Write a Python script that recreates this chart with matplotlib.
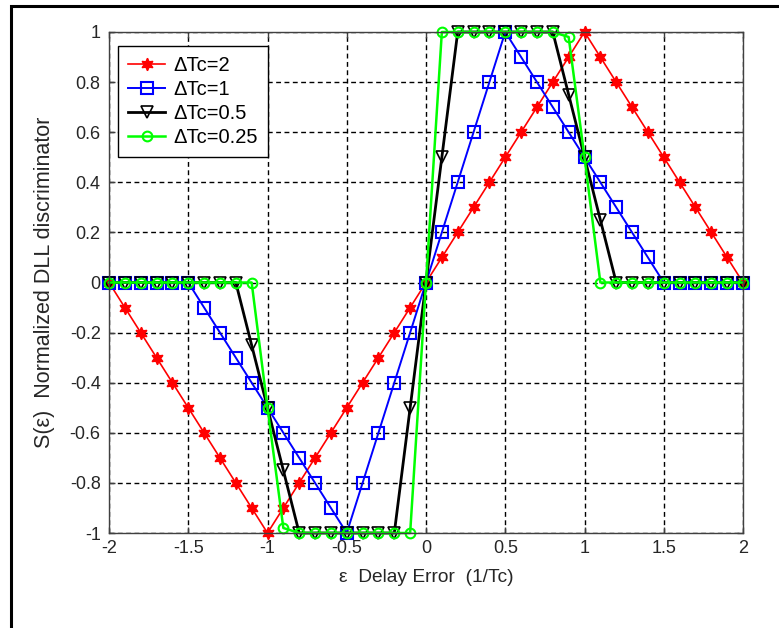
import matplotlib
matplotlib.use("Agg")
import matplotlib.pyplot as plt
from matplotlib.patches import Rectangle

# Delay error samples (chips)
delay_error = [-2.0, -1.9, -1.8, -1.7, -1.6, -1.5, -1.4, -1.3, -1.2, -1.1,
               -1.0, -0.9, -0.8, -0.7, -0.6, -0.5, -0.4, -0.3, -0.2, -0.1,
               0.0, 0.1, 0.2, 0.3, 0.4, 0.5, 0.6, 0.7, 0.8, 0.9,
               1.0, 1.1, 1.2, 1.3, 1.4, 1.5, 1.6, 1.7, 1.8, 1.9, 2.0]

# Normalized early-late discriminator output for each correlator spacing
s_dtc_2 = [0, -0.1, -0.2, -0.3, -0.4, -0.5, -0.6, -0.7, -0.8, -0.9,
           -1.0, -0.9, -0.8, -0.7, -0.6, -0.5, -0.4, -0.3, -0.2, -0.1,
           0, 0.1, 0.2, 0.3, 0.4, 0.5, 0.6, 0.7, 0.8, 0.9,
           1.0, 0.9, 0.8, 0.7, 0.6, 0.5, 0.4, 0.3, 0.2, 0.1, 0]
s_dtc_1 = [0, 0, 0, 0, 0, 0, -0.1, -0.2, -0.3, -0.4,
           -0.5, -0.6, -0.7, -0.8, -0.9, -1.0, -0.8, -0.6, -0.4, -0.2,
           0, 0.2, 0.4, 0.6, 0.8, 1.0, 0.9, 0.8, 0.7, 0.6,
           0.5, 0.4, 0.3, 0.2, 0.1, 0, 0, 0, 0, 0, 0]
s_dtc_05 = [0, 0, 0, 0, 0, 0, 0, 0, 0, -0.25,
            -0.5, -0.75, -1, -1, -1, -1, -1, -1, -1, -0.5,
            0, 0.5, 1, 1, 1, 1, 1, 1, 1, 0.75,
            0.5, 0.25, 0, 0, 0, 0, 0, 0, 0, 0, 0]
s_dtc_025 = [0, 0, 0, 0, 0, 0, 0, 0, 0, 0,
             -0.5, -0.98, -1, -1, -1, -1, -1, -1, -1, -1,
             0, 1, 1, 1, 1, 1, 1, 1, 1, 0.98,
             0.5, 0, 0, 0, 0, 0, 0, 0, 0, 0, 0]

labels = ["\u0394Tc=2", "\u0394Tc=1", "\u0394Tc=0.5", "\u0394Tc=0.25"]
x_ticks = [-2, -1.5, -1, -0.5, 0, 0.5, 1, 1.5, 2]
x_tick_labels = ["-2", "-1.5", "-1", "-0.5", "0", "0.5", "1", "1.5", "2"]
y_ticks = [-1, -0.8, -0.6, -0.4, -0.2, 0, 0.2, 0.4, 0.6, 0.8, 1]
y_tick_labels = ["-1", "-0.8", "-0.6", "-0.4", "-0.2", "0",
                 "0.2", "0.4", "0.6", "0.8", "1"]

plt.rcParams["font.family"] = ["Liberation Sans", "DejaVu Sans"]
FS = 13
TXT = "#262626"
AX = "#404040"

W, H = 779, 628
fig = plt.figure(figsize=(W / 100, H / 100), dpi=100)
fig.patch.set_facecolor("white")

# thick outer frame (top and left edges visible)
fig.add_artist(Rectangle((11 / W, -0.1), 1.2, (H - 6.5) / H + 0.1,
                         transform=fig.transFigure, fill=False,
                         edgecolor="black", linewidth=2.2))

left, right, top, bottom = 109, 743, 32, 533
ax = fig.add_axes([left / W, (H - bottom) / H, (right - left) / W, (bottom - top) / H])

common = dict(clip_on=False)
ax.plot(delay_error, s_dtc_2, color="#ff0000", lw=1.2, marker=(6, 1, 0),
        ms=9, mfc="#ff0000", mec="#ff0000", label=labels[0], **common)
ax.plot(delay_error, s_dtc_1, color="#0000ff", lw=1.4, marker="s",
        ms=8, mfc="none", mec="#0000ff", mew=1.5, label=labels[1], **common)
ax.plot(delay_error, s_dtc_05, color="black", lw=2.0, marker="v",
        ms=8, mfc="none", mec="black", mew=1.2, label=labels[2], **common)
ax.plot(delay_error, s_dtc_025, color="#00ff00", lw=1.8, marker="o",
        ms=7, mfc="none", mec="#00ff00", mew=1.5, label=labels[3], **common)

ax.set_xlim(-2, 2)
ax.set_ylim(-1, 1)
ax.set_xticks(x_ticks)
ax.set_xticklabels(x_tick_labels)
ax.set_yticks(y_ticks)
ax.set_yticklabels(y_tick_labels)

ax.grid(True, color="black", linewidth=1.0, linestyle=(0, (3.5, 2.5)))
ax.set_axisbelow(True)
for sp in ax.spines.values():
    sp.set_color(AX)
    sp.set_linewidth(1.0)
ax.tick_params(direction="in", length=4.5, width=1.0, color=AX,
               top=True, right=True, labelsize=FS, labelcolor=TXT)
ax.tick_params(axis="x", pad=5)
ax.tick_params(axis="y", pad=6)

ax.set_xlabel("\u03b5  Delay Error  (1/Tc)", fontsize=13.8, color=TXT, va="center")
ax.xaxis.set_label_coords(0.5, -0.088)
ax.set_ylabel("S(\u03b5)  Normalized DLL discriminator", fontsize=15.5,
              color=TXT, va="center")
ax.yaxis.set_label_coords(-0.101, 0.5)

leg = ax.legend(loc="upper left", bbox_to_anchor=(0.0142, 0.972),
                borderaxespad=0, fontsize=14.5, fancybox=False,
                edgecolor="black", framealpha=1, handlelength=1.85,
                handletextpad=0.4, labelspacing=0.25, borderpad=0.5)
leg.get_frame().set_linewidth(1.0)
for t in leg.get_texts():
    t.set_color("black")

fig.savefig("out.png", dpi=100)
